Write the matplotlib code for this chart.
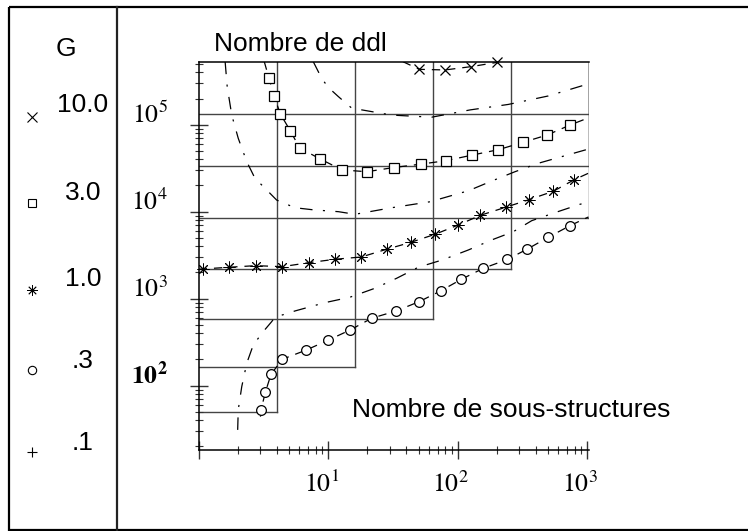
import matplotlib
matplotlib.use('Agg')
import matplotlib.pyplot as plt
from matplotlib.ticker import LogLocator, NullFormatter
from matplotlib.patches import Rectangle

plt.rcParams['font.family'] = ['Liberation Sans', 'DejaVu Sans']
plt.rcParams['mathtext.fontset'] = 'stix'
plt.rcParams['lines.scale_dashes'] = False

# ---------------- data ----------------
legend_title = 'G'
legend_labels = ['10.0', '3.0', '1.0', '.3', '.1']
legend_markers = ['x', 's', (8, 2, 0), 'o', '+']

# G = 10.0 (x markers)
g10_x = [50.5, 79.8, 127, 202]
g10_y = [4.33e5, 4.26e5, 4.65e5, 5.21e5]
g10_start = (37.8, 5.3e5)
g10_end = (202, 5.21e5)

# G = 3.0 (squares)
g3_x = [3.49, 3.83, 4.27, 5.10, 6.02, 8.69, 12.8, 19.9, 32.2, 51.8, 81.6, 130, 206, 321, 492, 740]
g3_y = [3.41e5, 2.11e5, 1.33e5, 8.5e4, 5.4e4, 4.03e4, 3.02e4, 2.88e4, 3.22e4, 3.52e4, 3.86e4,
        4.48e4, 5.16e4, 6.28e4, 7.62e4, 9.93e4]
g3_start = (3.21, 5.3e5)
g3_end = (1024, 1.2e5)

# G = 1.0 (asterisks)
g1_x = [1.07, 1.71, 2.75, 4.42, 7.11, 11.3, 18.0, 28.3, 43.6, 66.8, 101, 150, 235, 356, 547, 795]
g1_y = [2193, 2296, 2396, 2333, 2594, 2838, 3013, 3698, 4448, 5495, 7031, 9094, 11250, 13750,
        17150, 23330]
g1_start = (1.0, 2180)
g1_end = (1024, 27700)

# G = .3 (circles)
g03_x = [3.03, 3.27, 3.62, 4.42, 6.70, 10.0, 14.8, 21.7, 33.6, 50.5, 73.9, 107, 158, 242, 346, 501, 736]
g03_y = [52.6, 84, 135, 201, 255, 333, 437, 596, 723, 925, 1228, 1672, 2235, 2824, 3726, 5080, 6900]
g03_start = (3.0, 44)
g03_end = (1024, 8700)

# dash-dot curves
dd1_x = [7.67, 8.91, 10.0, 12.0, 15.2, 30.9, 63.0, 125, 246, 501, 1024]
dd1_y = [5.3e5, 3.41e5, 2.69e5, 2.10e5, 1.55e5, 1.29e5, 1.22e5, 1.48e5, 1.71e5, 2.14e5, 2.95e5]

dd2_x = [1.60, 1.66, 1.80, 2.02, 2.35, 2.72, 3.25, 4.00, 5.54, 7.68, 12.0, 16.1, 30.9, 61.1,
         121, 183, 277, 419, 635, 1024]
dd2_y = [5.3e5, 2.74e5, 1.29e5, 6.98e4, 3.76e4, 2.42e4, 1.86e4, 1.36e4, 1.11e4, 1.05e4, 1.0e4,
         9330, 1.11e4, 1.30e4, 1.74e4, 2.25e4, 2.88e4, 3.60e4, 4.29e4, 5.25e4]

dd3_x = [2.0, 2.02, 2.15, 2.35, 2.64, 3.15, 3.66, 3.88, 5.54, 9.45, 14.7, 23.0, 33.8, 49.6, 76.1,
         121, 183, 269, 373, 564, 880, 1024]
dd3_y = [31, 52.6, 97.4, 181, 294, 418, 544, 611, 722, 900, 1038, 1318, 1716, 2295, 2786, 3630,
         4730, 5890, 7880, 9750, 12160, 12900]

# staircase grid
stair_x = [4, 16, 64, 256, 1024, 1024, 1024]
stair_y = [50, 162, 578, 2178, 8450, 33282, 132098]

x_range = (1, 1024)
y_range = (18.2, 5.3e5)
x_major = [10, 100, 1000]
x_major_labels = [r'$10^{1}$', r'$10^{2}$', r'$10^{3}$']
y_major = [1e2, 1e3, 1e4, 1e5]
y_major_labels = [r'$\mathbf{10^{2}}$', r'$10^{3}$', r'$10^{4}$', r'$10^{5}$']

# ---------------- figure ----------------
W, H = 748, 531
fig = plt.figure(figsize=(W / 100, H / 100), dpi=100)

def fx(px):
    return px / W

def fy(py):
    return 1 - py / H

ax = fig.add_axes([fx(198.7), fy(450), fx(588.5) - fx(198.7), fy(61.7) - fy(450)])
ax.set_xscale('log')
ax.set_yscale('log')
ax.set_xlim(*x_range)
ax.set_ylim(*y_range)

ax.spines['right'].set_visible(False)
for s in ['left', 'bottom', 'top']:
    ax.spines[s].set_linewidth(1.1)
    ax.spines[s].set_color('black')

ax.xaxis.set_major_locator(LogLocator(base=10, numticks=10))
ax.xaxis.set_minor_locator(LogLocator(base=10, subs=range(2, 10), numticks=20))
ax.yaxis.set_major_locator(LogLocator(base=10, numticks=10))
ax.yaxis.set_minor_locator(LogLocator(base=10, subs=range(2, 10), numticks=20))
ax.xaxis.set_minor_formatter(NullFormatter())
ax.yaxis.set_minor_formatter(NullFormatter())
ax.tick_params(which='major', direction='inout', length=12.5, width=1.0, color='#333333',
               labelleft=False, labelbottom=False, top=False, right=False)
ax.tick_params(which='minor', direction='inout', length=6.3, width=0.8, color='#333333',
               top=False, right=False)

for v, lab in zip(x_major, x_major_labels):
    ax.annotate(lab, xy=(v, 0), xycoords=('data', 'axes fraction'), xytext=(-7, -42),
                textcoords='offset pixels', ha='center', va='baseline', fontsize=18.5)
for v, lab in zip(y_major, y_major_labels):
    ax.annotate(lab, xy=(0, v), xycoords=('axes fraction', 'data'), xytext=(-31, 2),
                textcoords='offset pixels', ha='right', va='baseline', fontsize=18.5)

# staircase
grid_col = '#444444'
ymax = y_range[1]
for xs, ys in zip(stair_x, stair_y):
    ax.plot([x_range[0], xs], [ys, ys], color=grid_col, lw=1.0, zorder=1)
    ax.plot([xs, xs], [ys, ymax], color=grid_col, lw=1.0, zorder=1)

# dash-dot curves
dd_style = (0, (9, 7.5, 1.5, 7.5))
for xs, ys in [(dd1_x, dd1_y), (dd2_x, dd2_y), (dd3_x, dd3_y)]:
    ax.plot(xs, ys, color='black', lw=0.9, linestyle=dd_style, zorder=2)

# marker series
dash = (0, (6, 5))
series = [
    (g10_x, g10_y, g10_start, g10_end, 'x', 'none', 7.5, 0.9),
    (g3_x, g3_y, g3_start, g3_end, 's', 'white', 7, 0.9),
    (g1_x, g1_y, g1_start, g1_end, (8, 2, 0), 'none', 8.5, 0.7),
    (g03_x, g03_y, g03_start, g03_end, 'o', 'white', 7, 0.9),
]
for xs, ys, st, en, mk, fc, ms, mew in series:
    lx = [st[0]] + list(xs) + [en[0]]
    ly = [st[1]] + list(ys) + [en[1]]
    ax.plot(lx, ly, color='black', lw=0.9, linestyle=dash, zorder=3)
    ax.plot(xs, ys, linestyle='none', marker=mk, markersize=ms, markerfacecolor=fc,
            markeredgecolor='black', markeredgewidth=mew, zorder=4, clip_on=False)

# axis titles
fig.text(fx(300), fy(50.7), 'Nombre de ddl', ha='center', va='baseline', fontsize=19)
fig.text(fx(511), fy(416.7), 'Nombre de sous-structures', ha='center', va='baseline', fontsize=19)

# ---------------- legend panel / frame ----------------
ov = fig.add_axes([0, 0, 1, 1], zorder=5)
ov.set_xlim(0, W)
ov.set_ylim(H, 0)
ov.axis('off')
ov.add_patch(Rectangle((9, 7), 760, 523, fill=False, edgecolor='black', lw=1.6, clip_on=True))
ov.plot([117, 117], [7, 530], color='#222222', lw=1.6)

ov.text(66, 56.5, legend_title, ha='center', va='baseline', fontsize=19)
text_base = [112.5, 199.5, 285.5, 367.5, 450.5]
mark_y = [117, 203, 290, 370, 452]
msizes = [6.5, 6, 7.5, 6, 7]
mews = [0.8, 0.8, 0.6, 0.8, 0.8]
for lab, mk, tb, my, ms, mew in zip(legend_labels, legend_markers, text_base, mark_y, msizes, mews):
    ov.text(83, tb, lab, ha='center', va='baseline', fontsize=19)
    fc = 'white' if mk in ('s', 'o') else 'none'
    ov.plot([32], [my], linestyle='none', marker=mk, markersize=ms, markerfacecolor=fc,
            markeredgecolor='black', markeredgewidth=mew)

fig.savefig('out.png', dpi=100)
